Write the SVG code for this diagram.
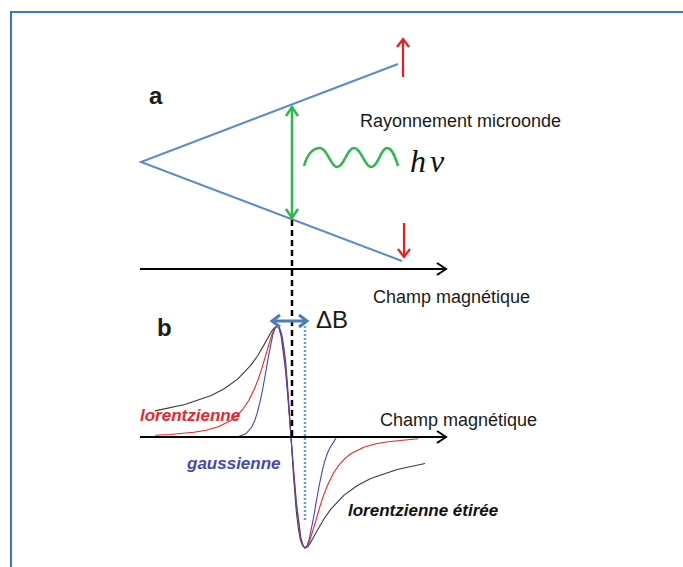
<svg xmlns="http://www.w3.org/2000/svg" width="683" height="567" viewBox="0 0 683 567">
<style>
  .lbl { font-family: "Liberation Sans", Arial, sans-serif; fill: #1a1a1a; }
  .bi { font-family: "Liberation Sans", Arial, sans-serif; font-weight: bold; font-style: italic; font-size: 17px; }
  .curve { fill: none; stroke-width: 1.1; stroke-linejoin: round; }
  .level { stroke: #5b8bc9; stroke-width: 2; fill: none; }
  .axis { stroke: #000; stroke-width: 2; fill: none; }
</style>
<defs>
  <marker id="ahBlack" markerUnits="userSpaceOnUse" markerWidth="16" markerHeight="16" refX="11" refY="8" orient="auto-start-reverse">
    <path d="M2,2 L11,8 L2,14" fill="none" stroke="#000" stroke-width="2"/>
  </marker>
  <marker id="ahRed" markerUnits="userSpaceOnUse" markerWidth="16" markerHeight="16" refX="11" refY="8" orient="auto-start-reverse">
    <path d="M3,2 L11,8 L3,14" fill="none" stroke="#ee1c1c" stroke-width="2.2"/>
  </marker>
  <marker id="ahGreen" markerUnits="userSpaceOnUse" markerWidth="16" markerHeight="16" refX="11" refY="8" orient="auto-start-reverse">
    <path d="M2,2 L11,8 L2,14" fill="none" stroke="#2db84d" stroke-width="2.5"/>
  </marker>
  <marker id="ahBlue" markerUnits="userSpaceOnUse" markerWidth="16" markerHeight="16" refX="11" refY="8" orient="auto-start-reverse">
    <path d="M3,2 L11,8 L3,14" fill="none" stroke="#4a7ebb" stroke-width="3"/>
  </marker>
</defs>

<rect x="11" y="12" width="700" height="600" fill="#ffffff" stroke="#3a78c4" stroke-width="2"/>

<!-- Part a: energy levels -->
<g id="levels">
  <polyline class="level" points="398,64 141,162 402,261"/>
</g>
<g id="label-a"><text class="lbl" x="149" y="104" font-size="24" font-weight="bold">a</text></g>
<g id="microwave">
  <path d="M304,166 C308,152 314,148 320,148 C327,148 331,167 337,167 C344,167 347,148 354,148 C361,148 365,167 371,167 C378,167 381,148 387,148 C393,148 396,160 398,166" fill="none" stroke="#2db84d" stroke-width="2.5"/>
  <text class="lbl" x="360" y="127" font-size="18">Rayonnement microonde</text>
  <text x="410" y="172" font-family="'Liberation Serif', 'Times New Roman', serif" font-style="italic" font-size="32" letter-spacing="4" fill="#111">hν</text>
</g>
<g id="axis-a-label"><text class="lbl" x="373" y="303" font-size="18">Champ magnétique</text></g>

<!-- Part b -->
<g id="label-b"><text class="lbl" x="157" y="336" font-size="24" font-weight="bold">b</text></g>
<g id="deltaB-label"><text class="lbl" x="316" y="328" font-size="24">ΔB</text></g>
<g id="axis-b-label"><text class="lbl" x="380" y="426" font-size="18">Champ magnétique</text></g>

<g id="curve-stretched">
  <polyline class="curve" stroke="#3a3a3a" points="155,410.9 184.8,404.5 211.3,395.4 224.6,388.5 237.9,378.9 251.2,364.9 257.8,355.5 264.4,344.1 271.1,332.1 274,328.2 277,326 279.5,327.6 281.7,334.4 283.8,347 285.7,362.6 288.3,395.7 291,437 293.7,478.3 296.3,511.4 298.3,528 300.3,539.6 302.5,545.5 305,548 308,546.5 310.9,541.9 317.6,529.9 324.2,518.5 330.8,509.1 344.1,495.1 357.4,485.5 370.7,478.6 397.2,469.5 425,463.5"/>
  <text class="bi" x="348" y="516" fill="#111">lorentzienne étirée</text>
</g>
<g id="curve-lorentzian">
  <polyline class="curve" stroke="#e8282b" points="155.2,435.2 169.8,434.5 194,432.3 206.1,430.2 218.3,426.7 230.4,420.7 236.4,416.1 242.5,409.7 248.6,400.8 254.6,388.5 258.3,379.1 261.9,368.1 266.8,351.6 271.6,335.3 274.5,329 277,326 279.3,328.5 281.3,335.4 283.8,352 286.2,373.8 291,437 295.9,500.2 300.7,538.6 303,545.5 305,548 307.5,546 310.4,538.7 315.3,522.5 320.1,505.9 323.7,494.9 327.4,485.5 333.4,473.2 339.5,464.3 345.6,457.9 351.6,453.3 363.8,447.3 375.9,443.8 388,441.7 418,438.8"/>
  <text class="bi" x="140" y="421" fill="#e8282b">lorentzienne</text>
</g>
<g id="curve-gaussian">
  <polyline class="curve" stroke="#4545b8" points="238,436.8 246.2,433.5 251.8,426.8 254.6,420.8 257.4,412.4 260.2,401.2 263,387.5 265.8,371.8 268.6,355.6 272.8,334.8 275,328.5 277,326 279,328 281.2,336.7 285.4,369.4 288.2,401.1 291,437 293.8,472.9 296.6,504.6 300.8,537.3 303,545.5 305,548 307,546 309.2,539.2 313.4,518.4 316.2,502.2 319,486.5 321.8,472.8 324.6,461.6 327.4,453.2 330.2,447.2 333,443.1 336,438"/>
  <text class="bi" x="187" y="469" fill="#4848b0">gaussienne</text>
</g>

<g id="connectors">
  <line x1="403" y1="77" x2="403" y2="39" stroke="#ee1c1c" stroke-width="2.2" marker-end="url(#ahRed)"/>
  <line x1="404" y1="223" x2="404" y2="257" stroke="#ee1c1c" stroke-width="2.2" marker-end="url(#ahRed)"/>
  <line x1="292" y1="107" x2="292" y2="218" stroke="#2db84d" stroke-width="2.5" marker-start="url(#ahGreen)" marker-end="url(#ahGreen)"/>
  <line x1="292" y1="220" x2="292" y2="437" stroke="#000" stroke-width="2.5" stroke-dasharray="6 4"/>
  <line x1="305" y1="322" x2="305" y2="520" stroke="#6a9fd8" stroke-width="2.5" stroke-dasharray="2 2"/>
  <line x1="140" y1="269" x2="446" y2="269" class="axis" marker-end="url(#ahBlack)"/>
  <line x1="140" y1="437" x2="446" y2="437" class="axis" marker-end="url(#ahBlack)"/>
  <line x1="272" y1="321" x2="307" y2="321" stroke="#4a7ebb" stroke-width="3" marker-start="url(#ahBlue)" marker-end="url(#ahBlue)"/>
</g>
</svg>
